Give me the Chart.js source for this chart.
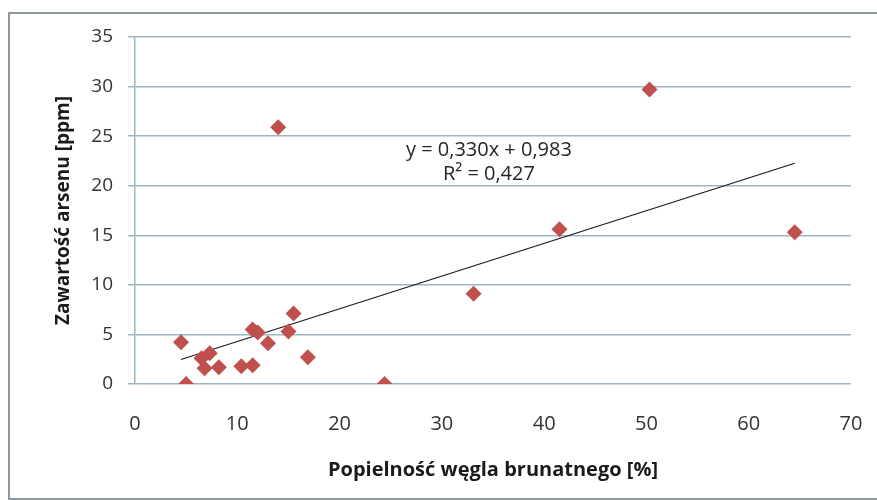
<!DOCTYPE html>
<html>
<head>
<meta charset="utf-8">
<script src="https://cdn.jsdelivr.net/npm/chart.js@4/dist/chart.umd.min.js"></script>
<style>
  body { margin: 0; background: #fff; overflow: hidden; }
  #frame { position: absolute; left: 8px; top: 12px; width: 900px; height: 484px; border: 2px solid #8c979c; }
  #wrap { position: absolute; left: 0; top: 0; width: 877px; height: 500px; }
</style>
</head>
<body>
<div id="frame"></div>
<div id="wrap"><canvas id="chart" width="877" height="500"></canvas></div>
<script>
// ash content [%] vs arsenic content [ppm]
const ashX = [4.5, 5.0, 6.5, 6.8, 7.3, 8.2, 10.4, 11.5, 11.5, 12.0, 13.0, 14.0, 15.0, 15.5, 16.9, 24.4, 33.1, 41.5, 50.3, 64.5];
const arsenY = [4.2, 0.0, 2.6, 1.6, 3.1, 1.7, 1.8, 1.9, 5.5, 5.2, 4.1, 25.9, 5.3, 7.1, 2.7, 0.0, 9.1, 15.6, 29.7, 15.3];

// trend line as printed on the chart
const slope = 0.330;
const intercept = 0.983;
const eqLines = ['y = 0,330x + 0,983', 'R\u00B2 = 0,427'];

const xTicks = [0, 10, 20, 30, 40, 50, 60, 70];
const yTicks = [0, 5, 10, 15, 20, 25, 30, 35];

const xMin = Math.min(...ashX);
const xMax = Math.max(...ashX);
const trend = [
  { x: xMin, y: slope * xMin + intercept },
  { x: xMax, y: slope * xMax + intercept }
];

const points = ashX.map((x, i) => ({ x: x, y: arsenY[i] }));

const font = "'Open Sans', Lato, sans-serif";

// draws the regression equation text
const equationLabel = {
  id: 'equationLabel',
  afterDatasetsDraw(chart) {
    const { ctx, scales } = chart;
    ctx.save();
    ctx.fillStyle = '#262626';
    ctx.font = '20px ' + font;
    ctx.textAlign = 'center';
    ctx.textBaseline = 'middle';
    const cx = scales.x.getPixelForValue(34.6);
    ctx.fillText(eqLines[0], cx, scales.y.getPixelForValue(23.6));
    ctx.fillText(eqLines[1], cx, scales.y.getPixelForValue(21.2));
    ctx.restore();
  }
};

const ctx = document.getElementById('chart').getContext('2d');
new Chart(ctx, {
  type: 'scatter',
  data: {
    datasets: [{
      label: 'Arsen',
      data: points,
      pointStyle: 'rectRot',
      pointRadius: 8,
      pointHoverRadius: 8,
      backgroundColor: '#c0504d',
      borderColor: '#c0504d',
      borderWidth: 0
    }, {
      label: 'Trend',
      type: 'line',
      data: trend,
      borderColor: '#1a1a1a',
      borderWidth: 1.2,
      pointRadius: 0,
      fill: false
    }]
  },
  options: {
    responsive: false,
    animation: false,
    layout: { padding: { top: 37, right: 26, left: 0, bottom: 0 } },
    plugins: {
      legend: { display: false },
      tooltip: { enabled: false }
    },
    scales: {
      x: {
        type: 'linear',
        min: 0,
        max: 70,
        afterBuildTicks: axis => { axis.ticks = xTicks.map(v => ({ value: v })); },
        afterFit: axis => {
          axis.height = 116;
          axis.paddingLeft = 0;
          axis.paddingRight = 0;
        },
        grid: { display: false, drawTicks: false },
        border: { display: false },
        ticks: { color: '#333', font: { family: font, size: 20 }, padding: 28 },
        title: {
          display: true,
          text: 'Popielność węgla brunatnego [%]',
          color: '#1a1a1a',
          font: { family: font, size: 20, weight: 'bold' },
          padding: { top: 0, bottom: 18 }
        }
      },
      y: {
        min: 0,
        max: 35,
        afterBuildTicks: axis => { axis.ticks = yTicks.map(v => ({ value: v })); },
        afterFit: axis => { axis.width = 135; },
        grid: { color: '#9bb6c6', lineWidth: 1.5, tickLength: 7, drawTicks: true },
        border: { display: true, color: '#9bb6c6', width: 1.5 },
        ticks: { color: '#333', font: { family: font, size: 19 }, padding: 15 },
        title: {
          display: true,
          text: 'Zawartość arsenu [ppm]',
          color: '#1a1a1a',
          font: { family: font, size: 19, weight: 'bold' },
          padding: { top: 52, bottom: 0 }
        }
      }
    }
  },
  plugins: [equationLabel]
});
</script>
</body>
</html>
